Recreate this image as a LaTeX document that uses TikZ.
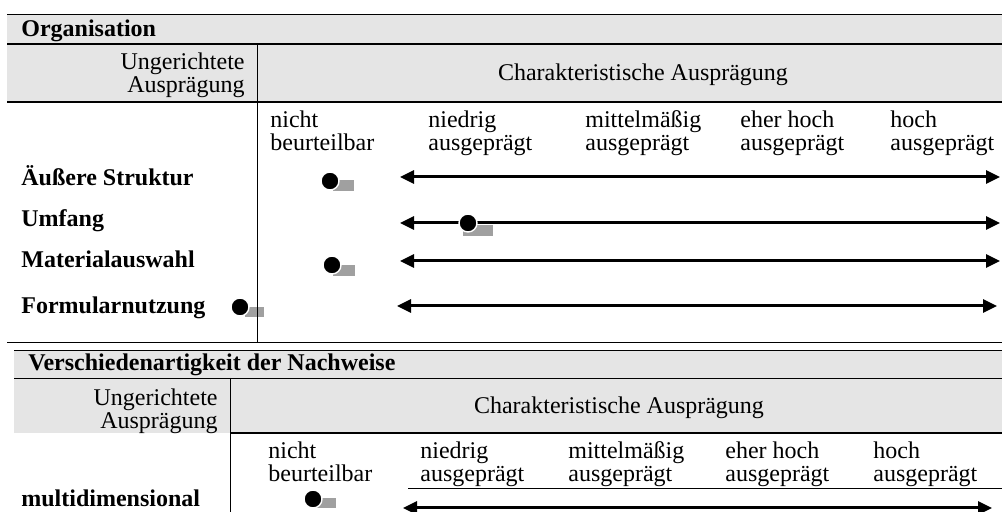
\documentclass[tikz,border=0pt]{standalone}
\usepackage{fontspec}
\setmainfont{Liberation Serif}
\usepackage{xcolor}
\usepackage{tikz}
\usetikzlibrary{positioning, arrows.meta}
\pgfdeclarelayer{background}
\pgfsetlayers{background,main}
\definecolor{headgray}{HTML}{E5E5E5}
\definecolor{markgray}{HTML}{A0A0A0}

\begin{document}
\begin{tikzpicture}
        [
        x=0.5pt, y=-0.5pt,
        every node/.style = {inner sep=0pt, font=\fontsize{12}{11.5}\selectfont},
        rowlabel/.style = {anchor=base west, font=\fontsize{12}{11.5}\selectfont\bfseries},
        collabel/.style = {anchor=north west, align=left},
        dot/.style = {circle, fill=black, draw=white, line width=0.7pt, minimum size=9pt},
        scale arrow/.style = {{Triangle[length=7pt,width=6.5pt]}-{Triangle[length=7pt,width=6.5pt]}, line width=1.5pt},
        thick rule/.style = {line width=1pt}
        ]
    \useasboundingbox (0,0) rectangle (1002,512);

    % Organisation
    \fill[headgray] (7,14) rectangle (1002,102);
    \draw (7,14) -- (1002,14);
    \draw[thick rule] (7,44) -- (1002,44);
    \draw[thick rule] (7,102) -- (1002,102);
    \draw (257,44) -- (257,342);
    \draw (7,342) -- (1002,342);

    \node[rowlabel] (org) at (21,37) {Organisation};
    \node[anchor=north east, align=right] (ung1) at (245,52) {Ungerichtete\\Ausprägung};
    \node (char1) at (643,75) {Charakteristische Ausprägung};
    \node[collabel] (nb1) at (270,110) {nicht\\beurteilbar};
    \node[collabel] (ni1) at (428,110) {niedrig\\ausgeprägt};
    \node[collabel] (mi1) at (585,110) {mittelmäßig\\ausgeprägt};
    \node[collabel] (eh1) at (740,110) {eher hoch\\ausgeprägt};
    \node[collabel] (ho1) at (890,110) {hoch\\ausgeprägt};

    \node[rowlabel] (struktur) at (21,186) {Äußere Struktur};
    \node[rowlabel] (umfang) at (21,227) {Umfang};
    \node[rowlabel] (material) at (21,268) {Materialauswahl};
    \node[rowlabel] (formular) at (21,314) {Formularnutzung};

    \coordinate (struktur-l) at (400,177);
    \coordinate (struktur-r) at (1000,177);
    \coordinate (umfang-l) at (400,223);
    \coordinate (umfang-r) at (1000,223);
    \coordinate (material-l) at (400,261);
    \coordinate (material-r) at (1000,261);
    \coordinate (formular-l) at (397,306);
    \coordinate (formular-r) at (997,306);

    \draw[scale arrow] (struktur-l) -- (struktur-r);
    \draw[scale arrow] (umfang-l) -- (umfang-r);
    \draw[scale arrow] (material-l) -- (material-r);
    \draw[scale arrow] (formular-l) -- (formular-r);

    \node[dot] (struktur-dot) at (330,181) {};
    \node[dot] (umfang-dot) at (468,223) {};
    \node[dot] (material-dot) at (332,265) {};
    \node[dot] (formular-dot) at (240,307) {};

    % Verschiedenartigkeit der Nachweise
    \fill[headgray] (14,350) rectangle (1002,433);
    \draw (14,350) -- (1002,350);
    \draw (14,378) -- (1002,378);
    \draw (230,378) -- (230,512);
    \draw[thick rule] (230,433) -- (1002,433);
    \draw (408,488) -- (1002,488);

    \node[rowlabel] (nachweise) at (28,371) {Verschiedenartigkeit der Nachweise};
    \node[anchor=north east, align=right] (ung2) at (218,388) {Ungerichtete\\Ausprägung};
    \node (char2) at (619,408) {Charakteristische Ausprägung};
    \node[collabel] (nb2) at (268,441) {nicht\\beurteilbar};
    \node[collabel] (ni2) at (420,441) {niedrig\\ausgeprägt};
    \node[collabel] (mi2) at (568,441) {mittelmäßig\\ausgeprägt};
    \node[collabel] (eh2) at (725,441) {eher hoch\\ausgeprägt};
    \node[collabel] (ho2) at (873,441) {hoch\\ausgeprägt};

    \node[rowlabel] (multi) at (21,507) {multidimensional};
    \coordinate (multi-l) at (403,508);
    \coordinate (multi-r) at (992,508);
    \draw[scale arrow] (multi-l) -- (multi-r);
    \node[dot] (multi-dot) at (313,499) {};

    \begin{pgfonlayer}{background}
        \fill[markgray] ([shift={(3,-1)}]struktur-dot.center) rectangle ++(21,11);
        \fill[markgray] ([shift={(-5,2)}]umfang-dot.center) rectangle ++(30,11);
        \fill[markgray] ([shift={(1,0)}]material-dot.center) rectangle ++(22,11);
        \fill[markgray] ([shift={(5,0)}]formular-dot.center) rectangle ++(19,10);
        \fill[markgray] ([shift={(4,-1)}]multi-dot.center) rectangle ++(19,10);
    \end{pgfonlayer}
    \end{tikzpicture}
\end{document}
